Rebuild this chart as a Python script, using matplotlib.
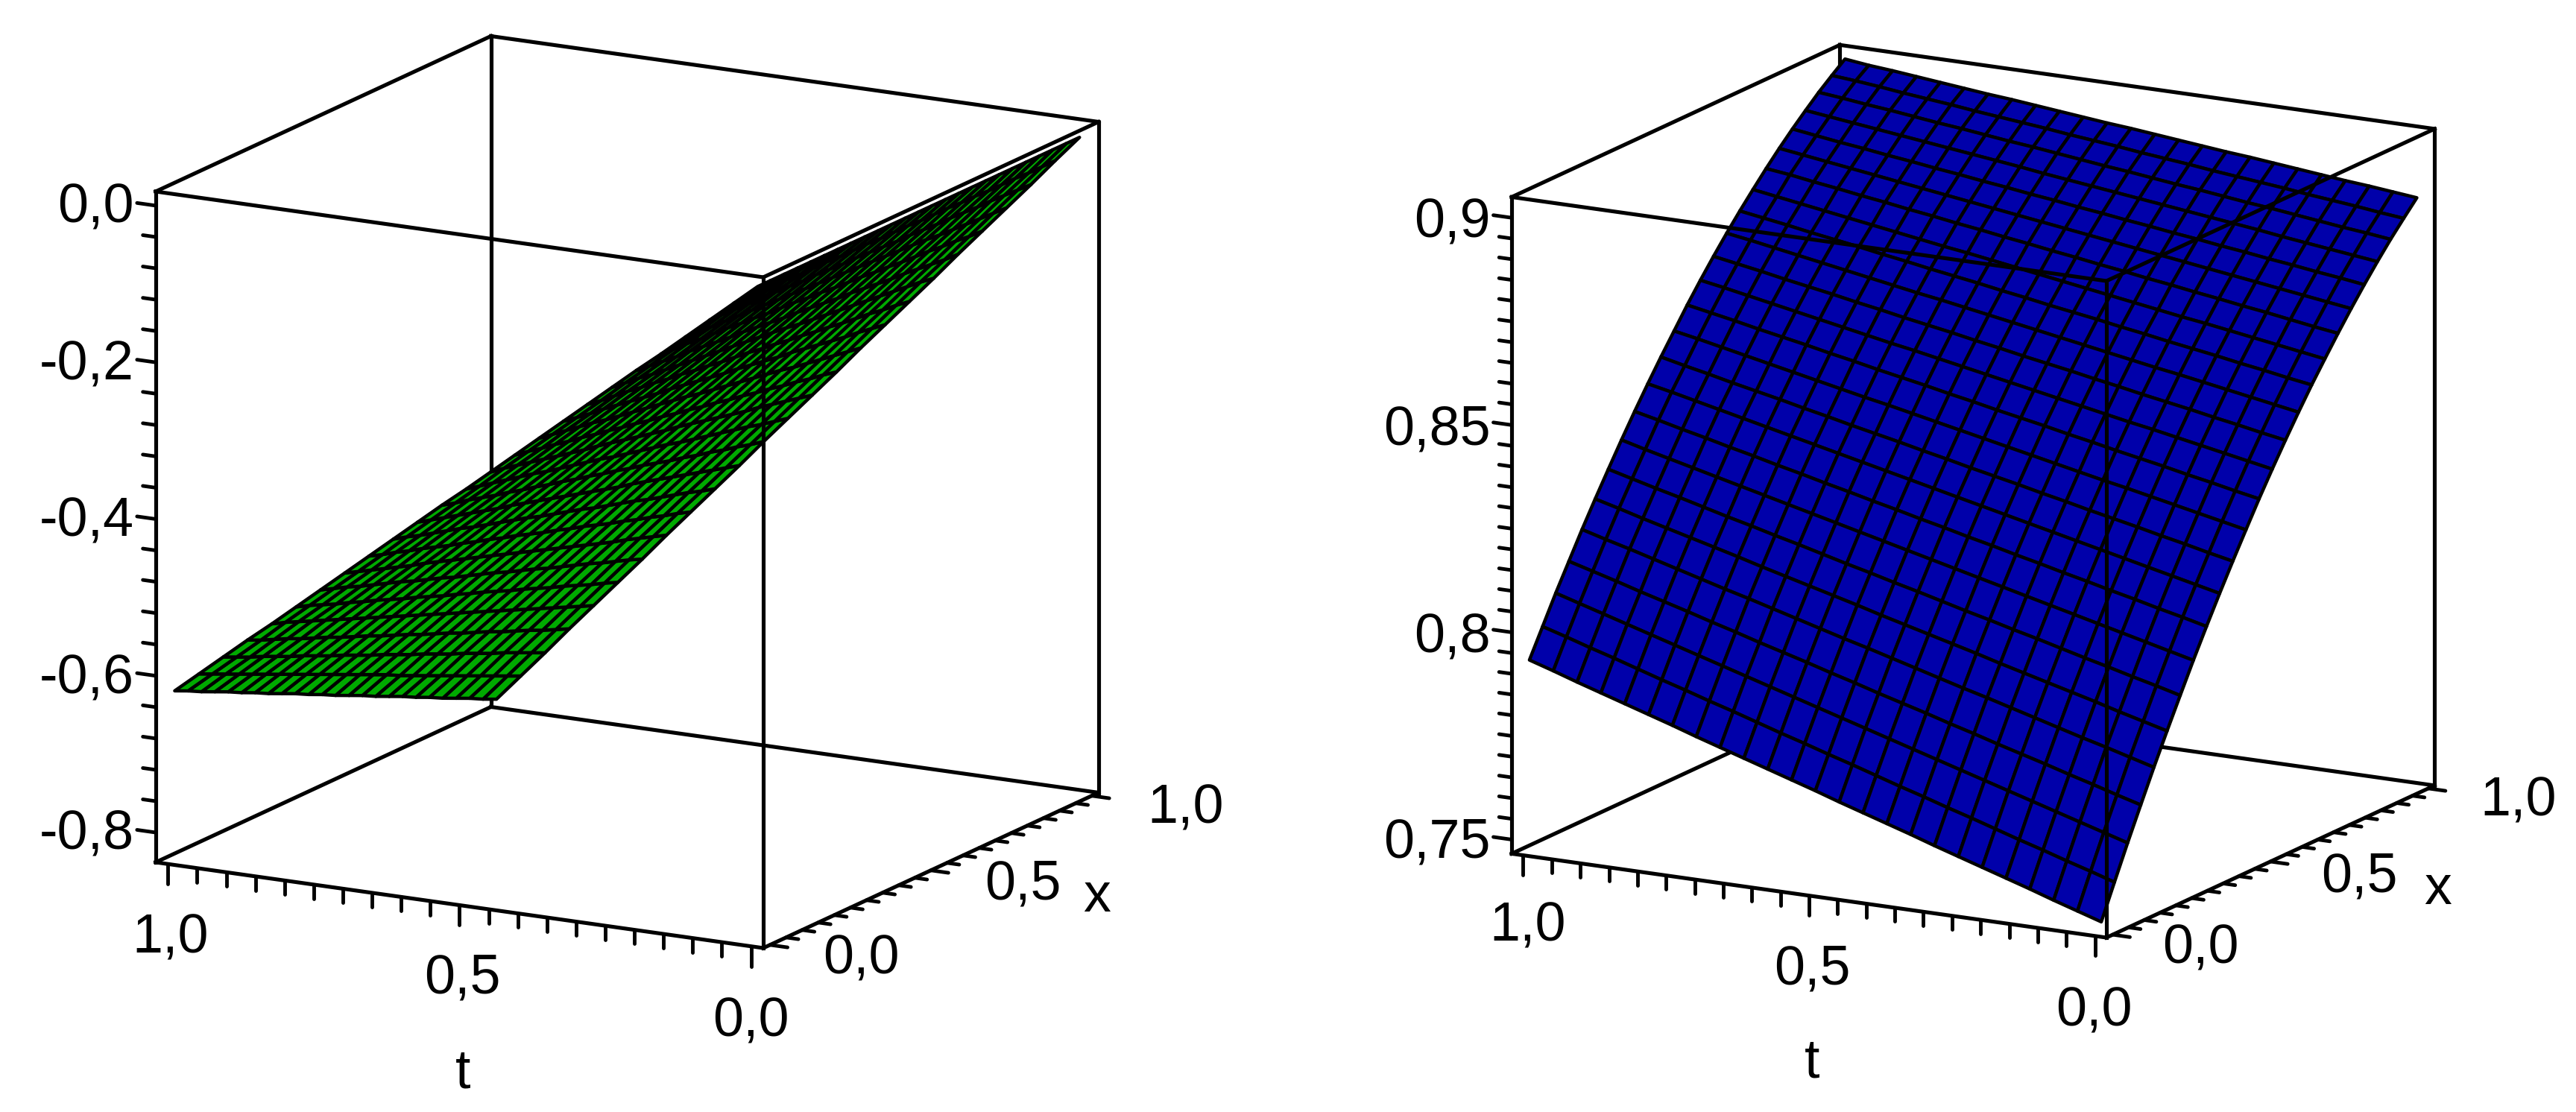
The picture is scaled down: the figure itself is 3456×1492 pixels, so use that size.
import numpy as np
import matplotlib
matplotlib.use("Agg")
import matplotlib.pyplot as plt
from mpl_toolkits.mplot3d import proj3d

plt.rcParams["font.family"] = ["Liberation Sans", "DejaVu Sans"]

W, H = 3456, 1492
FONT = 53

# surface grids
x_grid = np.linspace(0, 1, 25)
t_grid = np.linspace(0, 1, 25)

# left surface, -z in thousandths, one row per t, one column per x
z_left_raw = [
    [0, 0, 0, 0, 0, 0, 0, 0, 0, 0, 0, 0, 0, 0, 0, 0, 0, 0, 0, 0, 0, 0, 0, 0, 0],
    [26, 26, 27, 27, 27, 28, 28, 28, 29, 29, 29, 30, 30, 30, 31, 31, 31, 32, 32, 33, 33, 33, 34, 34, 34],
    [52, 52, 53, 54, 55, 55, 56, 57, 57, 58, 59, 59, 60, 61, 62, 62, 63, 64, 64, 65, 66, 66, 67, 68, 69],
    [78, 79, 80, 81, 82, 83, 84, 85, 86, 87, 88, 89, 90, 91, 92, 93, 94, 95, 96, 98, 99, 100, 101, 102, 103],
    [104, 105, 106, 108, 109, 110, 112, 113, 115, 116, 117, 119, 120, 122, 123, 124, 126, 127, 129, 130, 131, 133, 134, 136, 137],
    [129, 131, 133, 135, 136, 138, 140, 142, 143, 145, 147, 149, 150, 152, 154, 156, 157, 159, 161, 163, 164, 166, 168, 170, 171],
    [155, 157, 159, 162, 164, 166, 168, 170, 172, 174, 176, 178, 180, 182, 185, 187, 189, 191, 193, 195, 197, 199, 201, 203, 206],
    [181, 184, 186, 188, 191, 193, 196, 198, 201, 203, 206, 208, 210, 213, 215, 218, 220, 223, 225, 228, 230, 232, 235, 237, 240],
    [207, 210, 213, 215, 218, 221, 224, 227, 229, 232, 235, 238, 241, 243, 246, 249, 252, 254, 257, 260, 263, 266, 268, 271, 274],
    [233, 236, 239, 242, 245, 249, 252, 255, 258, 261, 264, 267, 271, 274, 277, 280, 283, 286, 289, 293, 296, 299, 302, 305, 308],
    [259, 262, 266, 269, 273, 276, 280, 283, 287, 290, 294, 297, 301, 304, 308, 311, 315, 318, 322, 325, 329, 332, 336, 339, 343],
    [285, 288, 292, 296, 300, 304, 308, 312, 315, 319, 323, 327, 331, 335, 338, 342, 346, 350, 354, 358, 361, 365, 369, 373, 377],
    [311, 315, 319, 323, 327, 331, 336, 340, 344, 348, 352, 357, 361, 365, 369, 373, 378, 382, 386, 390, 394, 398, 403, 407, 411],
    [336, 341, 345, 350, 355, 359, 364, 368, 373, 377, 382, 386, 391, 395, 400, 404, 409, 414, 418, 423, 427, 432, 436, 441, 445],
    [362, 367, 372, 377, 382, 387, 392, 396, 401, 406, 411, 416, 421, 426, 431, 436, 440, 445, 450, 455, 460, 465, 470, 475, 480],
    [388, 393, 399, 404, 409, 414, 420, 425, 430, 435, 440, 446, 451, 456, 461, 467, 472, 477, 482, 488, 493, 498, 503, 509, 514],
    [414, 420, 425, 431, 436, 442, 448, 453, 459, 464, 470, 475, 481, 487, 492, 498, 503, 509, 515, 520, 526, 531, 537, 542, 548],
    [440, 446, 452, 458, 464, 470, 475, 481, 487, 493, 499, 505, 511, 517, 523, 529, 535, 541, 547, 553, 559, 564, 570, 576, 582],
    [466, 472, 478, 485, 491, 497, 503, 510, 516, 522, 529, 535, 541, 547, 554, 560, 566, 573, 579, 585, 591, 598, 604, 610, 617],
    [492, 498, 505, 512, 518, 525, 531, 538, 545, 551, 558, 565, 571, 578, 584, 591, 598, 604, 611, 618, 624, 631, 638, 644, 651],
    [518, 524, 531, 538, 545, 552, 559, 566, 573, 580, 587, 594, 601, 608, 615, 622, 629, 636, 643, 650, 657, 664, 671, 678, 685],
    [543, 551, 558, 565, 573, 580, 587, 595, 602, 609, 617, 624, 631, 639, 646, 653, 661, 668, 675, 683, 690, 697, 705, 712, 719],
    [569, 577, 585, 592, 600, 608, 615, 623, 631, 638, 646, 654, 661, 669, 677, 684, 692, 700, 707, 715, 723, 730, 738, 746, 754],
    [595, 603, 611, 619, 627, 635, 643, 651, 659, 667, 675, 683, 691, 699, 707, 716, 724, 732, 740, 748, 756, 764, 772, 780, 788],
    [621, 629, 638, 646, 654, 663, 671, 680, 688, 696, 705, 713, 722, 730, 738, 747, 755, 763, 772, 780, 789, 797, 805, 814, 822],
]

# right surface, z in 1/10000, one row per t, one column per x
z_right_raw = [
    [7493, 7574, 7654, 7731, 7807, 7880, 7951, 8021, 8088, 8153, 8216, 8277, 8337, 8394, 8449, 8502, 8553, 8601, 8648, 8693, 8736, 8777, 8816, 8852, 8887],
    [7511, 7592, 7671, 7747, 7823, 7895, 7966, 8035, 8102, 8166, 8228, 8289, 8348, 8405, 8459, 8512, 8562, 8610, 8656, 8701, 8744, 8784, 8823, 8858, 8893],
    [7529, 7609, 7688, 7764, 7839, 7910, 7980, 8049, 8115, 8179, 8241, 8301, 8360, 8416, 8470, 8522, 8572, 8619, 8665, 8709, 8751, 8791, 8829, 8865, 8899],
    [7548, 7627, 7705, 7780, 7854, 7926, 7995, 8063, 8129, 8192, 8253, 8313, 8371, 8427, 8480, 8532, 8581, 8628, 8674, 8717, 8759, 8798, 8836, 8871, 8904],
    [7566, 7644, 7722, 7797, 7870, 7941, 8009, 8077, 8142, 8205, 8266, 8325, 8383, 8438, 8491, 8542, 8591, 8637, 8682, 8725, 8766, 8805, 8843, 8877, 8910],
    [7584, 7662, 7739, 7813, 7886, 7956, 8024, 8091, 8156, 8218, 8278, 8337, 8394, 8449, 8501, 8552, 8600, 8646, 8691, 8733, 8774, 8813, 8850, 8884, 8916],
    [7602, 7680, 7756, 7829, 7902, 7971, 8039, 8105, 8169, 8231, 8290, 8348, 8405, 8459, 8511, 8561, 8609, 8654, 8699, 8741, 8781, 8820, 8856, 8890, 8922],
    [7620, 7697, 7773, 7846, 7918, 7986, 8053, 8119, 8183, 8244, 8303, 8360, 8417, 8470, 8522, 8571, 8619, 8663, 8708, 8749, 8789, 8827, 8863, 8896, 8928],
    [7639, 7715, 7790, 7862, 7933, 8002, 8068, 8133, 8196, 8257, 8315, 8372, 8428, 8481, 8532, 8581, 8628, 8672, 8716, 8757, 8796, 8834, 8870, 8902, 8933],
    [7657, 7732, 7807, 7879, 7949, 8017, 8082, 8147, 8210, 8270, 8328, 8384, 8440, 8492, 8543, 8591, 8638, 8681, 8725, 8765, 8804, 8841, 8876, 8909, 8939],
    [7675, 7750, 7824, 7895, 7965, 8032, 8097, 8161, 8223, 8283, 8340, 8396, 8451, 8503, 8553, 8601, 8647, 8690, 8733, 8773, 8811, 8848, 8883, 8915, 8945],
    [7693, 7768, 7841, 7911, 7981, 8047, 8112, 8175, 8237, 8296, 8352, 8408, 8462, 8514, 8563, 8611, 8656, 8699, 8742, 8781, 8819, 8855, 8890, 8921, 8951],
    [7712, 7785, 7858, 7928, 7997, 8062, 8126, 8189, 8250, 8309, 8365, 8420, 8474, 8525, 8574, 8621, 8666, 8708, 8750, 8789, 8826, 8862, 8896, 8928, 8957],
    [7730, 7803, 7875, 7944, 8012, 8078, 8141, 8203, 8264, 8322, 8377, 8432, 8485, 8536, 8584, 8631, 8675, 8717, 8759, 8797, 8834, 8869, 8903, 8934, 8962],
    [7748, 7820, 7892, 7961, 8028, 8093, 8155, 8217, 8277, 8335, 8390, 8444, 8497, 8547, 8595, 8641, 8685, 8726, 8767, 8805, 8841, 8876, 8910, 8940, 8968],
    [7766, 7838, 7909, 7977, 8044, 8108, 8170, 8231, 8291, 8348, 8402, 8456, 8508, 8558, 8605, 8651, 8694, 8735, 8776, 8813, 8849, 8884, 8917, 8947, 8974],
    [7784, 7856, 7926, 7993, 8060, 8123, 8185, 8245, 8304, 8361, 8414, 8467, 8519, 8568, 8615, 8660, 8703, 8743, 8784, 8821, 8856, 8891, 8923, 8953, 8980],
    [7802, 7873, 7943, 8010, 8076, 8138, 8199, 8259, 8318, 8374, 8427, 8479, 8531, 8579, 8626, 8670, 8713, 8752, 8793, 8829, 8864, 8898, 8930, 8959, 8986],
    [7821, 7891, 7960, 8026, 8091, 8154, 8214, 8273, 8331, 8387, 8439, 8491, 8542, 8590, 8636, 8680, 8722, 8761, 8801, 8837, 8871, 8905, 8937, 8965, 8991],
    [7839, 7908, 7977, 8043, 8107, 8169, 8228, 8287, 8345, 8400, 8452, 8503, 8554, 8601, 8647, 8690, 8732, 8770, 8810, 8845, 8879, 8912, 8943, 8972, 8997],
    [7857, 7926, 7994, 8059, 8123, 8184, 8243, 8301, 8358, 8413, 8464, 8515, 8565, 8612, 8657, 8700, 8741, 8779, 8818, 8853, 8886, 8919, 8950, 8978, 9003],
    [7875, 7944, 8011, 8075, 8139, 8199, 8258, 8315, 8372, 8426, 8476, 8527, 8576, 8623, 8667, 8710, 8750, 8788, 8827, 8861, 8894, 8926, 8957, 8984, 9009],
    [7893, 7961, 8028, 8092, 8155, 8214, 8272, 8329, 8385, 8439, 8489, 8539, 8588, 8634, 8678, 8720, 8760, 8797, 8835, 8869, 8901, 8933, 8963, 8991, 9015],
    [7912, 7979, 8045, 8108, 8170, 8230, 8287, 8343, 8399, 8452, 8501, 8551, 8599, 8645, 8688, 8730, 8769, 8806, 8844, 8877, 8909, 8940, 8970, 8997, 9020],
    [7930, 7996, 8062, 8124, 8186, 8245, 8302, 8358, 8412, 8464, 8514, 8562, 8610, 8655, 8698, 8739, 8778, 8815, 8851, 8885, 8917, 8947, 8976, 9002, 9027],
]

z_left = -np.array(z_left_raw) / 1000
z_right = np.array(z_right_raw) / 10000

# ticks shared by t and x
unit_major = [0.0, 0.5, 1.0]
unit_minor = [0.05, 0.1, 0.15, 0.2, 0.25, 0.3, 0.35, 0.4, 0.45, 0.55, 0.6, 0.65, 0.7, 0.75, 0.8, 0.85, 0.9, 0.95]
unit_labels = ["0,0", "0,5", "1,0"]

left_z_major = [0.0, -0.2, -0.4, -0.6, -0.8]
left_z_minor = [-0.04, -0.08, -0.12, -0.16, -0.24, -0.28, -0.32, -0.36, -0.44, -0.48, -0.52, -0.56, -0.64, -0.68, -0.72, -0.76]
left_z_labels = ["0,0", "-0,2", "-0,4", "-0,6", "-0,8"]

right_z_major = [0.9, 0.85, 0.8, 0.75]
right_z_minor = [0.895, 0.89, 0.885, 0.88, 0.875, 0.87, 0.865, 0.86, 0.855, 0.845, 0.84, 0.835, 0.83, 0.825, 0.82, 0.815, 0.81, 0.805, 0.795, 0.79, 0.785, 0.78, 0.775, 0.77, 0.765, 0.76, 0.755]
right_z_labels = ["0,9", "0,85", "0,8", "0,75"]

# baselines of the labels, in pixels of the image
left_text = {
    "z": [(180, 299), (180, 509), (180, 719), (180, 930), (180, 1139)],
    "t": [(1007, 1390), (620, 1333), (229, 1278)],
    "x": [(1155, 1307), (1372, 1206), (1591, 1104)],
    "t_name": (621, 1459),
    "x_name": (1472, 1223),
}
right_text = {
    "z": [(2000, 319), (2000, 597), (2000, 875), (2000, 1151)],
    "t": [(2809, 1376), (2431, 1321), (2050, 1263)],
    "x": [(2952, 1293), (3165, 1197), (3379, 1094)],
    "t_name": (2431, 1445),
    "x_name": (3271, 1213),
}


def px_text(fig, px, py, s, ha="center"):
    fig.text(px / W, 1 - py / H, s, fontsize=FONT, ha=ha, va="baseline", color="black")


def place_box(ax, xl, tl, zl, front_px, edge_px):
    # size and move the square axes so the front vertical edge lands on front_px
    size = 2000.0
    left, bottom = 0.0, 0.0
    for _ in range(3):
        ax.set_position([left / W, bottom / H, size / W, size / H])
        ax.apply_aspect()
        M = ax.get_proj()
        x0, y0, _z = proj3d.proj_transform(xl[0], tl[0], zl[0], M)
        x1, y1, _z = proj3d.proj_transform(xl[0], tl[0], zl[1], M)
        p0 = ax.transData.transform((x0, y0))
        p1 = ax.transData.transform((x1, y1))
        size = size * edge_px / (p1[1] - p0[1])
        ax.set_position([left / W, bottom / H, size / W, size / H])
        ax.apply_aspect()
        p0 = ax.transData.transform((x0, y0))
        left += front_px[0] - p0[0]
        bottom += (H - front_px[1]) - p0[1]


def draw_panel(fig, z, color, xl, tl, zl, z_major, z_minor, z_labels, text, front_px, edge_px):
    ax = fig.add_axes([0, 0, 1, 1], projection="3d", computed_zorder=False, proj_type="ortho")
    ax.view_init(elev=14.82, azim=-151.11)
    ax.set_box_aspect((1, 1, 1))
    ax.set_xlim(*xl)
    ax.set_ylim(*tl)
    ax.set_zlim(*zl)
    ax.set_axis_off()
    ax.patch.set_visible(False)
    place_box(ax, xl, tl, zl, front_px, edge_px)

    box = dict(color="black", lw=3.7, solid_capstyle="projecting")
    # edges behind the surface
    ax.plot([xl[1], xl[1]], [tl[1], tl[1]], zl, zorder=1, **box)
    ax.plot(xl, [tl[1], tl[1]], [zl[0], zl[0]], zorder=1, **box)
    ax.plot([xl[1], xl[1]], tl, [zl[0], zl[0]], zorder=1, **box)

    X, T = np.meshgrid(x_grid, t_grid)
    ax.plot_surface(X, T, z, color=color, edgecolor="black", linewidth=3.2,
                    rstride=1, cstride=1, shade=False, zorder=2)

    # silhouette edges
    ax.plot([xl[0], xl[0]], tl, [zl[0], zl[0]], zorder=3, **box)
    ax.plot(xl, [tl[0], tl[0]], [zl[0], zl[0]], zorder=3, **box)
    ax.plot([xl[0], xl[0]], [tl[1], tl[1]], zl, zorder=3, **box)
    ax.plot([xl[1], xl[1]], [tl[0], tl[0]], zl, zorder=3, **box)
    ax.plot(xl, [tl[1], tl[1]], [zl[1], zl[1]], zorder=3, **box)
    ax.plot([xl[1], xl[1]], tl, [zl[1], zl[1]], zorder=3, **box)
    # edges in front of the surface
    ax.plot([xl[0], xl[0]], [tl[0], tl[0]], zl, zorder=4, **box)
    ax.plot(xl, [tl[0], tl[0]], [zl[1], zl[1]], zorder=4, **box)
    ax.plot([xl[0], xl[0]], tl, [zl[1], zl[1]], zorder=4, **box)

    tick = dict(color="black", lw=3.5, solid_capstyle="round", zorder=3)
    zspan = zl[1] - zl[0]
    for vals, ln in ((unit_major, 0.03), (unit_minor, 0.021)):
        for v in vals:
            # t axis ticks hang down
            ax.plot([xl[0], xl[0]], [v, v], [zl[0], zl[0] - ln * zspan], **tick)
            # x axis ticks go along -t
            ax.plot([v, v], [tl[0], tl[0] - ln], [zl[0], zl[0]], **tick)
    for vals, ln in ((z_major, 0.032), (z_minor, 0.022)):
        for v in vals:
            ax.plot([xl[0], xl[0]], [tl[1], tl[1] + ln], [v, v], **tick)

    for (px, py), s in zip(text["z"], z_labels):
        px_text(fig, px, py, s, ha="right")
    for (px, py), s in zip(text["t"], unit_labels):
        px_text(fig, px, py, s)
    for (px, py), s in zip(text["x"], unit_labels):
        px_text(fig, px, py, s)
    px_text(fig, *text["t_name"], "t")
    px_text(fig, *text["x_name"], "x")


fig = plt.figure(figsize=(W / 100, H / 100), dpi=100, facecolor="white")

draw_panel(fig, z_left, "#00aa00", (-0.021, 1.021), (-0.021, 1.021), (-0.838, 0.018),
           left_z_major, left_z_minor, left_z_labels, left_text, (1024, 1272), 900)
draw_panel(fig, z_right, "#0000aa", (-0.02, 1.02), (-0.02, 1.02), (0.7466, 0.905),
           right_z_major, right_z_minor, right_z_labels, right_text, (2826, 1258), 881)

fig.savefig("out.png", dpi=100, facecolor="white")
